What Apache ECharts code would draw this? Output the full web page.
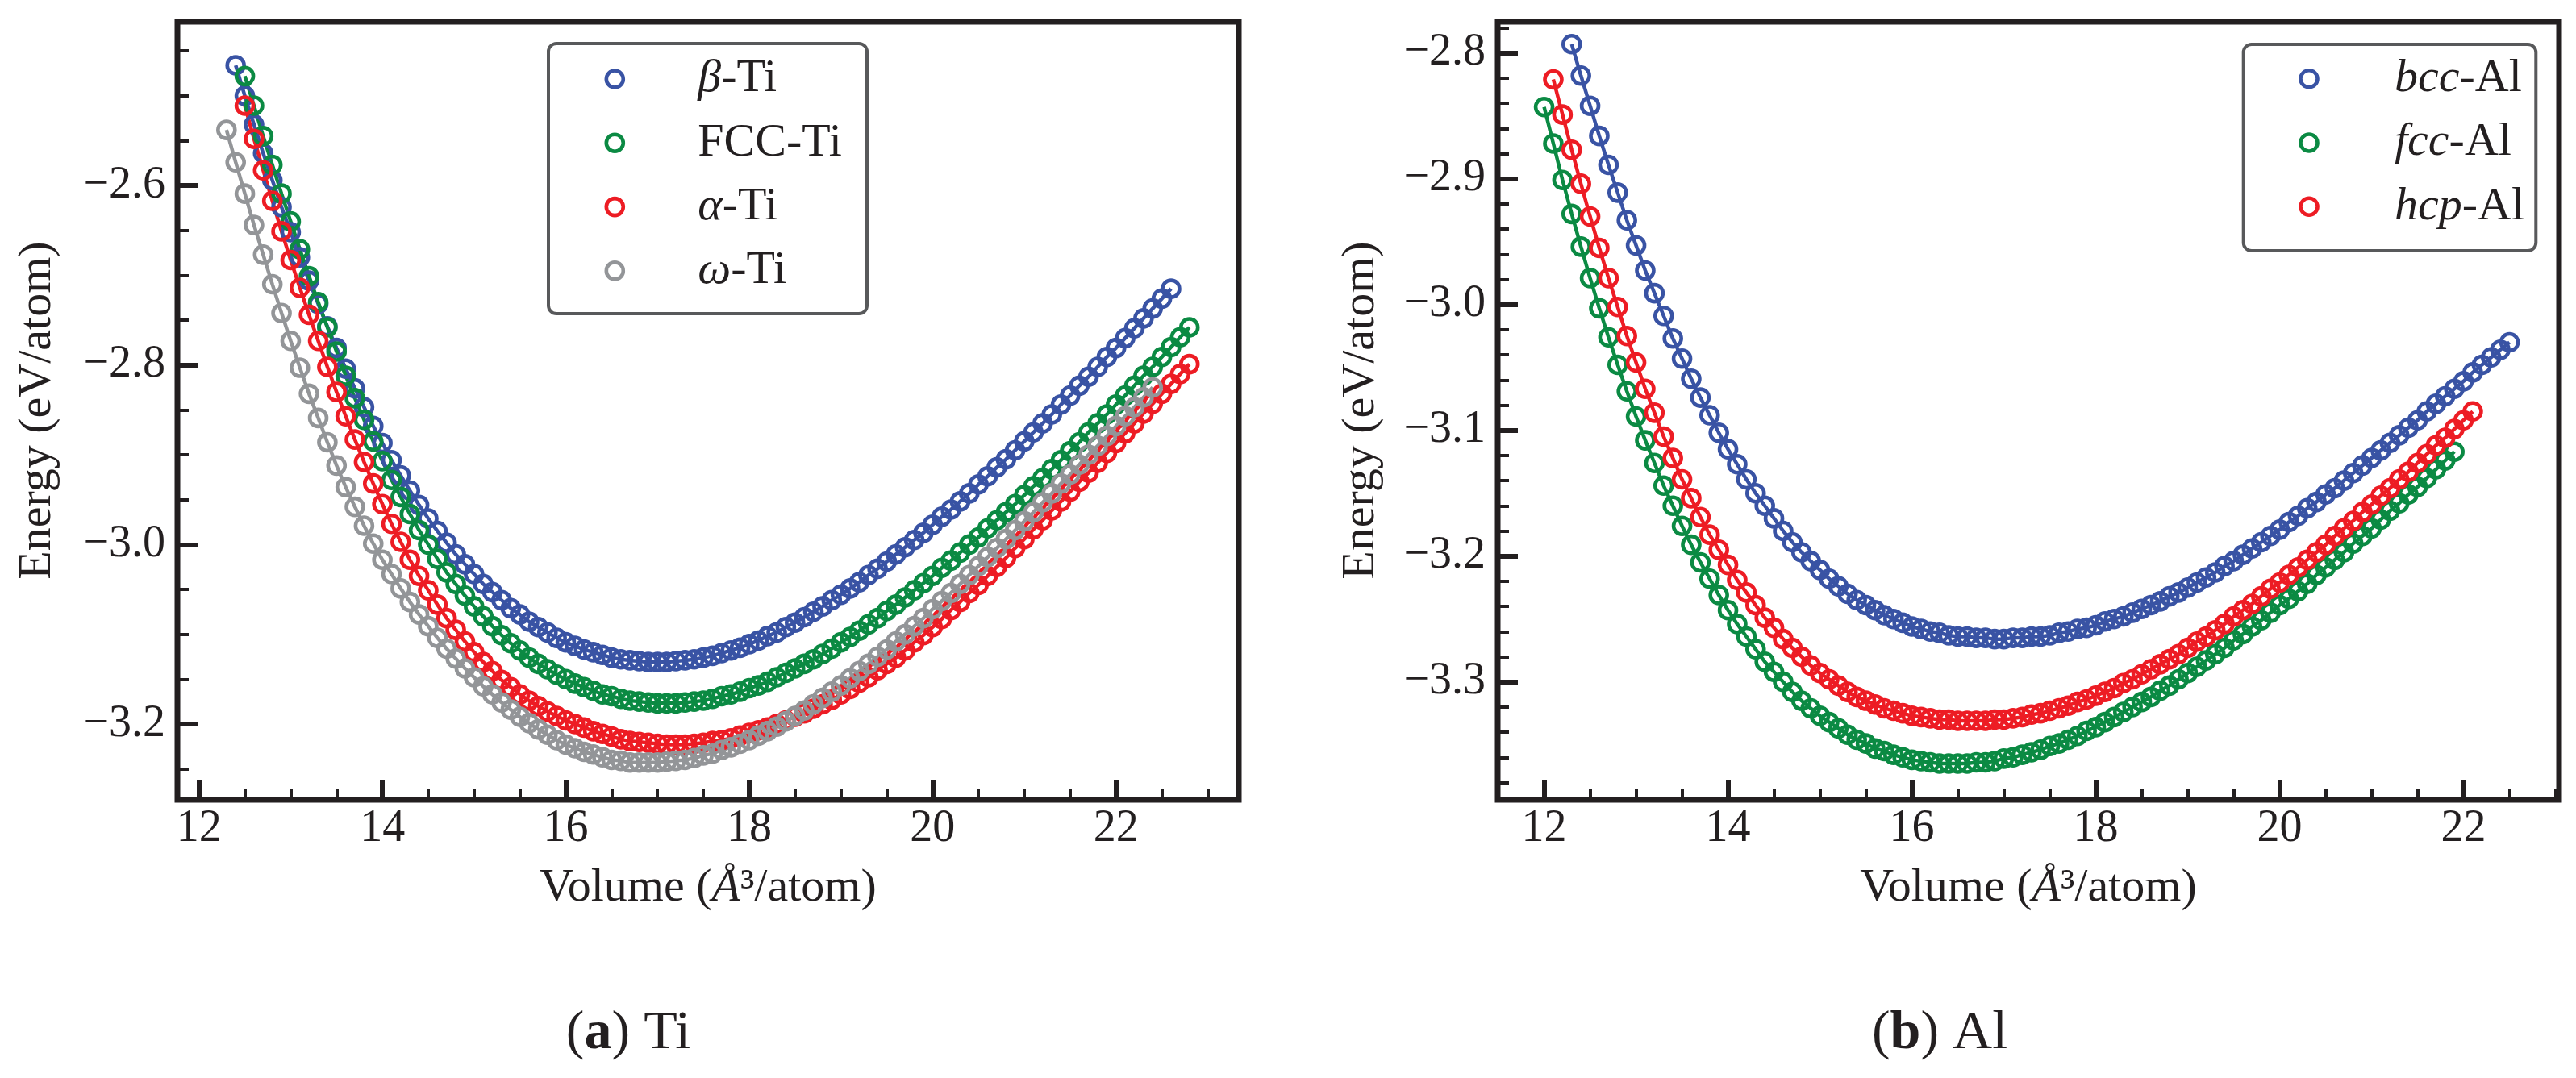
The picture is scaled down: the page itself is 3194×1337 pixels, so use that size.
<!DOCTYPE html>
<html><head><meta charset="utf-8">
<script src="https://cdn.jsdelivr.net/npm/echarts@6/dist/echarts.min.js"></script>
<style>html,body{margin:0;padding:0;background:#fff}#c{width:3194px;height:1337px}</style>
</head><body><div id="c"></div>
<script>
// ---------- DATA: (a) Ti ----------
const volTi = [
12.3,12.4,12.5,12.6,12.7,12.8,12.9,13.0,13.1,13.2,
13.3,13.4,13.5,13.6,13.7,13.8,13.9,14.0,14.1,14.2,
14.3,14.4,14.5,14.6,14.7,14.8,14.9,15.0,15.1,15.2,
15.3,15.4,15.5,15.6,15.7,15.8,15.9,16.0,16.1,16.2,
16.3,16.4,16.5,16.6,16.7,16.8,16.9,17.0,17.1,17.2,
17.3,17.4,17.5,17.6,17.7,17.8,17.9,18.0,18.1,18.2,
18.3,18.4,18.5,18.6,18.7,18.8,18.9,19.0,19.1,19.2,
19.3,19.4,19.5,19.6,19.7,19.8,19.9,20.0,20.1,20.2,
20.3,20.4,20.5,20.6,20.7,20.8,20.9,21.0,21.1,21.2,
21.3,21.4,21.5,21.6,21.7,21.8,21.9,22.0,22.1,22.2,
22.3,22.4,22.5,22.6,22.7,22.8];
const eBetaTi = [null,
-2.466,-2.500,-2.532,-2.564,-2.594,-2.624,-2.652,-2.680,-2.706,-2.732,
-2.757,-2.781,-2.804,-2.826,-2.847,-2.868,-2.887,-2.906,-2.923,-2.940,
-2.956,-2.971,-2.985,-2.998,-3.011,-3.022,-3.033,-3.044,-3.053,-3.062,
-3.071,-3.078,-3.086,-3.092,-3.098,-3.104,-3.109,-3.113,-3.117,-3.120,
-3.123,-3.126,-3.128,-3.129,-3.130,-3.131,-3.131,-3.131,-3.130,-3.129,
-3.128,-3.126,-3.124,-3.121,-3.118,-3.115,-3.111,-3.107,-3.102,-3.098,
-3.092,-3.087,-3.081,-3.075,-3.069,-3.062,-3.056,-3.049,-3.042,-3.034,
-3.027,-3.019,-3.011,-3.003,-2.995,-2.987,-2.978,-2.969,-2.961,-2.952,
-2.943,-2.933,-2.924,-2.914,-2.905,-2.895,-2.885,-2.875,-2.865,-2.855,
-2.844,-2.834,-2.823,-2.813,-2.802,-2.791,-2.781,-2.770,-2.759,-2.748,
-2.737,-2.726,-2.715,null,null];
const eFccTi = [null,null,
-2.478,-2.511,-2.545,-2.577,-2.609,-2.640,-2.671,-2.701,-2.730,-2.758,
-2.785,-2.812,-2.837,-2.861,-2.885,-2.907,-2.928,-2.947,-2.966,-2.984,
-3.000,-3.016,-3.031,-3.044,-3.057,-3.069,-3.080,-3.091,-3.101,-3.110,
-3.118,-3.126,-3.133,-3.139,-3.145,-3.150,-3.155,-3.159,-3.163,-3.167,
-3.169,-3.172,-3.174,-3.175,-3.176,-3.177,-3.177,-3.177,-3.176,-3.175,
-3.174,-3.172,-3.169,-3.167,-3.164,-3.160,-3.157,-3.153,-3.148,-3.143,
-3.138,-3.133,-3.128,-3.122,-3.116,-3.109,-3.103,-3.096,-3.089,-3.082,
-3.074,-3.067,-3.059,-3.051,-3.043,-3.035,-3.026,-3.018,-3.009,-3.000,
-2.992,-2.982,-2.973,-2.964,-2.955,-2.945,-2.935,-2.926,-2.916,-2.906,
-2.896,-2.886,-2.875,-2.865,-2.855,-2.844,-2.834,-2.823,-2.812,-2.802,
-2.791,-2.780,-2.769,-2.758];
const eAlphaTi = [null,null,
-2.511,-2.548,-2.583,-2.617,-2.651,-2.683,-2.714,-2.744,-2.773,-2.802,
-2.830,-2.857,-2.883,-2.908,-2.932,-2.955,-2.977,-2.997,-3.017,-3.035,
-3.051,-3.067,-3.082,-3.095,-3.108,-3.120,-3.131,-3.141,-3.151,-3.159,
-3.167,-3.174,-3.180,-3.186,-3.191,-3.196,-3.200,-3.204,-3.208,-3.211,
-3.214,-3.217,-3.219,-3.220,-3.221,-3.222,-3.223,-3.223,-3.223,-3.222,
-3.221,-3.219,-3.218,-3.216,-3.213,-3.210,-3.207,-3.204,-3.200,-3.196,
-3.192,-3.188,-3.183,-3.178,-3.173,-3.167,-3.161,-3.154,-3.148,-3.140,
-3.133,-3.126,-3.118,-3.109,-3.101,-3.092,-3.083,-3.073,-3.064,-3.054,
-3.045,-3.035,-3.025,-3.015,-3.004,-2.994,-2.983,-2.973,-2.962,-2.952,
-2.941,-2.930,-2.920,-2.909,-2.898,-2.887,-2.876,-2.865,-2.854,-2.843,
-2.832,-2.821,-2.810,-2.799];
const eOmegaTi = [
-2.538,-2.574,-2.609,-2.644,-2.677,-2.710,-2.742,-2.773,-2.803,-2.832,
-2.859,-2.886,-2.912,-2.936,-2.958,-2.979,-2.999,-3.017,-3.033,-3.049,
-3.064,-3.078,-3.091,-3.104,-3.116,-3.127,-3.138,-3.148,-3.158,-3.167,
-3.176,-3.184,-3.192,-3.199,-3.206,-3.212,-3.218,-3.223,-3.227,-3.231,
-3.234,-3.237,-3.240,-3.241,-3.243,-3.243,-3.243,-3.243,-3.242,-3.241,
-3.240,-3.238,-3.235,-3.233,-3.229,-3.226,-3.222,-3.218,-3.213,-3.208,
-3.203,-3.197,-3.191,-3.185,-3.178,-3.171,-3.164,-3.157,-3.149,-3.141,
-3.133,-3.125,-3.117,-3.108,-3.100,-3.091,-3.082,-3.072,-3.063,-3.054,
-3.044,-3.034,-3.024,-3.014,-3.004,-2.994,-2.984,-2.974,-2.964,-2.953,
-2.943,-2.932,-2.922,-2.911,-2.900,-2.890,-2.879,-2.868,-2.857,-2.847,
-2.836,-2.825,null,null,null,null];

// ---------- DATA: (b) Al ----------
const volAl = [
12.0,12.1,12.2,12.3,12.4,12.5,12.6,12.7,12.8,12.9,
13.0,13.1,13.2,13.3,13.4,13.5,13.6,13.7,13.8,13.9,
14.0,14.1,14.2,14.3,14.4,14.5,14.6,14.7,14.8,14.9,
15.0,15.1,15.2,15.3,15.4,15.5,15.6,15.7,15.8,15.9,
16.0,16.1,16.2,16.3,16.4,16.5,16.6,16.7,16.8,16.9,
17.0,17.1,17.2,17.3,17.4,17.5,17.6,17.7,17.8,17.9,
18.0,18.1,18.2,18.3,18.4,18.5,18.6,18.7,18.8,18.9,
19.0,19.1,19.2,19.3,19.4,19.5,19.6,19.7,19.8,19.9,
20.0,20.1,20.2,20.3,20.4,20.5,20.6,20.7,20.8,20.9,
21.0,21.1,21.2,21.3,21.4,21.5,21.6,21.7,21.8,21.9,
22.0,22.1,22.2,22.3,22.4,22.5];
const eBccAl = [null,null,null,
-2.793,-2.818,-2.842,-2.866,-2.889,-2.911,-2.933,-2.953,-2.973,-2.991,
-3.009,-3.027,-3.043,-3.059,-3.074,-3.088,-3.102,-3.115,-3.127,-3.139,
-3.150,-3.160,-3.170,-3.180,-3.189,-3.197,-3.204,-3.211,-3.218,-3.224,
-3.230,-3.235,-3.239,-3.243,-3.247,-3.250,-3.253,-3.256,-3.258,-3.260,
-3.261,-3.263,-3.264,-3.264,-3.265,-3.265,-3.266,-3.266,-3.265,-3.265,
-3.264,-3.264,-3.263,-3.261,-3.260,-3.258,-3.257,-3.255,-3.252,-3.250,
-3.248,-3.245,-3.242,-3.239,-3.236,-3.232,-3.229,-3.225,-3.221,-3.217,
-3.213,-3.208,-3.204,-3.199,-3.194,-3.189,-3.184,-3.179,-3.173,-3.168,
-3.162,-3.157,-3.151,-3.146,-3.140,-3.134,-3.128,-3.122,-3.116,-3.110,
-3.104,-3.098,-3.092,-3.085,-3.079,-3.073,-3.067,-3.061,-3.054,-3.048,
-3.042,-3.036,-3.030];
const eFccAl = [
-2.843,-2.872,-2.901,-2.928,-2.954,-2.979,-3.003,-3.026,-3.048,-3.069,
-3.089,-3.108,-3.126,-3.144,-3.160,-3.176,-3.191,-3.205,-3.218,-3.231,
-3.243,-3.254,-3.264,-3.274,-3.284,-3.292,-3.300,-3.308,-3.315,-3.321,
-3.327,-3.332,-3.337,-3.342,-3.346,-3.349,-3.353,-3.355,-3.358,-3.360,
-3.362,-3.363,-3.364,-3.365,-3.365,-3.365,-3.365,-3.364,-3.364,-3.363,
-3.361,-3.360,-3.358,-3.356,-3.354,-3.351,-3.349,-3.346,-3.343,-3.339,
-3.336,-3.332,-3.328,-3.324,-3.320,-3.316,-3.312,-3.307,-3.303,-3.298,
-3.293,-3.288,-3.283,-3.278,-3.273,-3.267,-3.262,-3.256,-3.251,-3.245,
-3.239,-3.234,-3.228,-3.222,-3.215,-3.209,-3.203,-3.197,-3.190,-3.184,
-3.178,-3.171,-3.164,-3.158,-3.151,-3.145,-3.138,-3.131,-3.124,-3.117,
null,null,null,null,null,null];
const eHcpAl = [null,
-2.821,-2.849,-2.877,-2.904,-2.930,-2.955,-2.979,-3.002,-3.025,-3.046,
-3.067,-3.086,-3.105,-3.122,-3.139,-3.154,-3.169,-3.183,-3.195,-3.207,
-3.219,-3.229,-3.239,-3.249,-3.257,-3.266,-3.273,-3.280,-3.287,-3.293,
-3.298,-3.303,-3.308,-3.312,-3.315,-3.318,-3.321,-3.323,-3.325,-3.327,
-3.328,-3.329,-3.330,-3.330,-3.331,-3.331,-3.331,-3.331,-3.330,-3.330,
-3.329,-3.328,-3.326,-3.325,-3.323,-3.321,-3.319,-3.316,-3.314,-3.311,
-3.308,-3.305,-3.301,-3.298,-3.294,-3.290,-3.286,-3.282,-3.278,-3.273,
-3.268,-3.264,-3.259,-3.254,-3.248,-3.243,-3.238,-3.232,-3.226,-3.221,
-3.215,-3.209,-3.203,-3.197,-3.191,-3.184,-3.178,-3.172,-3.165,-3.159,
-3.152,-3.146,-3.139,-3.133,-3.126,-3.119,-3.112,-3.106,-3.099,-3.092,
-3.085,null,null,null,null];

// ---------- ticks ----------
const tiXTicks = [12,14,16,18,20,22];
const tiXMinor = [12.5,13,13.5,14.5,15,15.5,16.5,17,17.5,18.5,19,19.5,20.5,21,21.5,22.5,23];
const tiYTicks = [-3.2,-3.0,-2.8,-2.6];
const tiYMinor = [-3.25,-3.15,-3.1,-3.05,-2.95,-2.9,-2.85,-2.75,-2.7,-2.65,-2.55,-2.5,-2.45];
const alXTicks = [12,14,16,18,20,22];
const alXMinor = [12.5,13,13.5,14.5,15,15.5,16.5,17,17.5,18.5,19,19.5,20.5,21,21.5,22.5,23];
const alYTicks = [-3.3,-3.2,-3.1,-3.0,-2.9,-2.8];
const alYMinor = [-3.38,-3.36,-3.34,-3.32,-3.28,-3.26,-3.24,-3.22,-3.18,-3.16,-3.14,-3.12,
  -3.08,-3.06,-3.04,-3.02,-2.98,-2.96,-2.94,-2.92,-2.88,-2.86,-2.84,-2.82,-2.78];

// ---------- names ----------
const tiNames = ['β-Ti','FCC-Ti','α-Ti','ω-Ti'];
const alNames = ['bcc-Al','fcc-Al','hcp-Al'];
const legendRich = {'β-Ti':'{i|β}{n|-Ti}','FCC-Ti':'{n|FCC-Ti}','α-Ti':'{i|α}{n|-Ti}','ω-Ti':'{i|ω}{n|-Ti}',
  'bcc-Al':'{i|bcc}{n|-Al}','fcc-Al':'{i|fcc}{n|-Al}','hcp-Al':'{i|hcp}{n|-Al}'};

const FONT = "'Liberation Serif','Times New Roman',serif";
const INK = '#231f20';
const BLUE = '#3953a4', GREEN = '#0b8a43', RED = '#ed1c24', GRAY = '#939598';
const tiColors = [BLUE, GREEN, RED, GRAY];
const alColors = [BLUE, GREEN, RED];

function pairs(vol, e){ const out=[]; for(let i=0;i<vol.length;i++){ if(e[i]!=null) out.push([vol[i], e[i]]); } return out; }
function mkSeries(name, color, vol, e, xi, yi){
  return {type:'line', name, xAxisIndex:xi, yAxisIndex:yi, data:pairs(vol,e),
    symbol:'circle', symbolSize:21, showSymbol:true, smooth:false, clip:true, silent:true,
    lineStyle:{color, width:4.5}, itemStyle:{color:'rgba(255,255,255,0)', borderColor:color, borderWidth:4.6},
    emphasis:{disabled:true}, animation:false};
}
const yFmt = v => (v<0?'\u2212':'') + Math.abs(v).toFixed(1);
function mainX(g,min,max,ticks){ return {type:'value', gridIndex:g, min, max, position:'bottom',
  axisLine:{show:false,onZero:false}, splitLine:{show:false},
  axisTick:{show:true, inside:true, length:25, customValues:ticks, lineStyle:{color:INK,width:6}},
  axisLabel:{show:true, customValues:ticks, margin:8, color:INK, fontFamily:FONT, fontSize:56, lineHeight:56, formatter:v=>String(v)}}; }
function minorX(g,min,max,ticks){ return {type:'value', gridIndex:g, min, max, position:'bottom',
  axisLine:{show:false,onZero:false}, splitLine:{show:false}, axisLabel:{show:false},
  axisTick:{show:true, inside:true, length:14, customValues:ticks, lineStyle:{color:INK,width:4}}}; }
function mainY(g,min,max,ticks){ return {type:'value', gridIndex:g, min, max, position:'left',
  axisLine:{show:false,onZero:false}, splitLine:{show:false},
  axisTick:{show:true, inside:true, length:25, customValues:ticks, lineStyle:{color:INK,width:6}},
  axisLabel:{show:true, customValues:ticks, margin:15, color:INK, fontFamily:FONT, fontSize:56, lineHeight:56, formatter:yFmt}}; }
function minorY(g,min,max,ticks){ return {type:'value', gridIndex:g, min, max, position:'left',
  axisLine:{show:false,onZero:false}, splitLine:{show:false}, axisLabel:{show:false},
  axisTick:{show:true, inside:true, length:14, customValues:ticks, lineStyle:{color:INK,width:4}}}; }

const richText = {
  i:{fontStyle:'italic', fontFamily:FONT, fontSize:58, color:INK, lineHeight:58},
  n:{fontFamily:FONT, fontSize:58, color:INK, lineHeight:58}
};
function mkLegend(names, colors, left, top, padLeft){
  return {orient:'vertical', left, top, padding:0, itemGap:21.3, itemWidth:21, itemHeight:21,
    selectedMode:false, z:10,
    data: names.map((n,i)=>({name:n, icon:'circle', itemStyle:{color:'#fff', borderColor:colors[i], borderWidth:4.6}})),
    formatter: n => legendRich[n],
    textStyle:{color:INK, fontFamily:FONT, fontSize:58, lineHeight:58, padding:[0,0,0,padLeft], rich:richText}};
}
const gRich = {
  n:{fill:INK, fontFamily:FONT, fontSize:58},
  i:{fill:INK, fontFamily:FONT, fontSize:58, fontStyle:'italic'}
};
const cRich = {
  n:{fill:INK, fontFamily:FONT, fontSize:68},
  b:{fill:INK, fontFamily:FONT, fontSize:68, fontWeight:'bold'}
};

const chart = echarts.init(document.getElementById('c'), null, {renderer:'canvas'});
chart.setOption({
  animation:false,
  backgroundColor:'#ffffff',
  grid:[
    {left:220, top:27, width:1316, height:965, show:true, borderColor:INK, borderWidth:7, backgroundColor:'rgba(0,0,0,0)', containLabel:false, outerBoundsMode:'none'},
    {left:1857, top:27, width:1316, height:965, show:true, borderColor:INK, borderWidth:7, backgroundColor:'rgba(0,0,0,0)', containLabel:false, outerBoundsMode:'none'}
  ],
  xAxis:[ mainX(0,11.765,23.339,tiXTicks), minorX(0,11.765,23.339,tiXMinor),
          mainX(1,11.495,23.039,alXTicks), minorX(1,11.495,23.039,alXMinor) ],
  yAxis:[ mainY(0,-3.2845,-2.4175,tiYTicks), minorY(0,-3.2845,-2.4175,tiYMinor),
          mainY(1,-3.3938,-2.7752,alYTicks), minorY(1,-3.3938,-2.7752,alYMinor) ],
  legend:[ mkLegend(tiNames, tiColors, 749.5, 69, 87.5), mkLegend(alNames, alColors, 2850.2, 68.7, 90.5) ],
  series:[
    mkSeries(tiNames[0], BLUE, volTi, eBetaTi, 0, 0),
    mkSeries(tiNames[1], GREEN, volTi, eFccTi, 0, 0),
    mkSeries(tiNames[2], RED, volTi, eAlphaTi, 0, 0),
    mkSeries(tiNames[3], GRAY, volTi, eOmegaTi, 0, 0),
    mkSeries(alNames[0], BLUE, volAl, eBccAl, 2, 2),
    mkSeries(alNames[1], GREEN, volAl, eFccAl, 2, 2),
    mkSeries(alNames[2], RED, volAl, eHcpAl, 2, 2)
  ],
  graphic:[
    {type:'rect', z:5, silent:true, shape:{x:680, y:54, width:395, height:335, r:10}, style:{fill:'#fff', stroke:'#58595b', lineWidth:4}},
    {type:'rect', z:5, silent:true, shape:{x:2781.7, y:55, width:362.6, height:256, r:10}, style:{fill:'#fff', stroke:'#58595b', lineWidth:4}},
    {type:'text', z:5, silent:true, x:47, y:509, rotation:Math.PI/2, style:{text:'Energy (eV/atom)', fill:INK, fontFamily:FONT, fontSize:58, align:'center', verticalAlign:'middle'}},
    {type:'text', z:5, silent:true, x:1688, y:509, rotation:Math.PI/2, style:{text:'Energy (eV/atom)', fill:INK, fontFamily:FONT, fontSize:58, align:'center', verticalAlign:'middle'}},
    {type:'text', z:5, silent:true, x:878, y:1102, style:{text:'{n|Volume (}{i|Å}{n|³/atom)}', rich:gRich, align:'center', verticalAlign:'middle'}},
    {type:'text', z:5, silent:true, x:2515, y:1102, style:{text:'{n|Volume (}{i|Å}{n|³/atom)}', rich:gRich, align:'center', verticalAlign:'middle'}},
    {type:'text', z:5, silent:true, x:779, y:1282, style:{text:'{n|(}{b|a}{n|) Ti}', rich:cRich, align:'center', verticalAlign:'middle'}},
    {type:'text', z:5, silent:true, x:2405, y:1282, style:{text:'{n|(}{b|b}{n|) Al}', rich:cRich, align:'center', verticalAlign:'middle'}}
  ]
});
</script>
</body></html>
